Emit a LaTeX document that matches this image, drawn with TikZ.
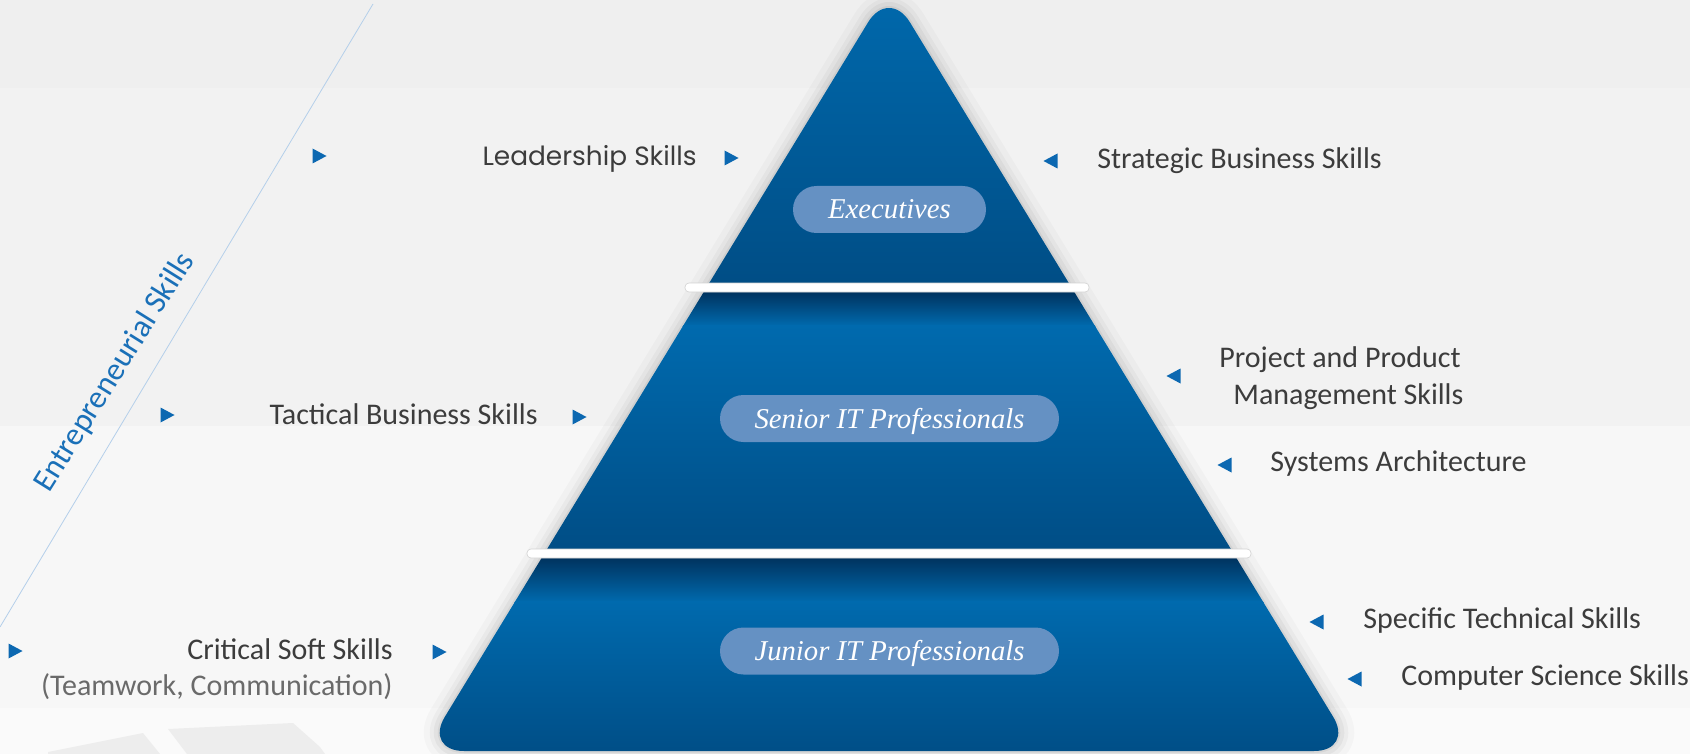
\documentclass[tikz,border=0pt]{standalone}
\usepackage{fontspec}
\setmainfont{Carlito}
\newfontfamily\geofont{Poppins}
\newfontfamily\pillfont{Liberation Serif}
\usetikzlibrary{shapes.geometric}

\definecolor{bgA}{HTML}{EFEFEF}
\definecolor{bgB}{HTML}{F2F2F2}
\definecolor{bgC}{HTML}{F7F7F7}
\definecolor{bgD}{HTML}{FAFAFA}
\definecolor{bgshape}{HTML}{EDEDED}
\definecolor{txtgray}{HTML}{3C3C3C}
\definecolor{subgray}{HTML}{6A6A6A}
\definecolor{mkblue}{HTML}{0C68B1}
\definecolor{entblue}{HTML}{1A70B8}
\definecolor{entline}{HTML}{B4CFEA}
\definecolor{pyrtop}{HTML}{006AAE}
\definecolor{pyrbot}{HTML}{004D85}
\definecolor{pyrshd}{HTML}{002D56}
\definecolor{pillblue}{HTML}{6591C3}

\begin{document}
\begin{tikzpicture}[x=0.5pt,y=-0.5pt,
    skill/.style={inner sep=0pt, text=txtgray, font=\fontsize{15pt}{18pt}\selectfont},
    lead/.style={inner sep=0pt, text=txtgray, font=\geofont\fontsize{13.2pt}{15pt}\selectfont},
    pill/.style={fill=pillblue, rounded corners=11.75pt, minimum height=23.5pt, inner sep=0pt,
      text=white, text height=9.5pt, text depth=0pt, font=\pillfont\itshape\fontsize{14.35pt}{17pt}\selectfont},
    tipR/.style={isosceles triangle, isosceles triangle apex angle=60, isosceles triangle stretches,
      fill=mkblue, inner sep=0pt, minimum width=7.5pt, minimum height=7pt},
    tipL/.style={tipR, shape border rotate=180}] % Pyramid
  \useasboundingbox (0,0) rectangle (1690,754);

  % background bands
  \fill[bgA] (0,0) rectangle (1690,88);
  \fill[bgB] (0,88) rectangle (1690,426);
  \fill[bgC] (0,426) rectangle (1690,708);
  \fill[bgD] (0,708) rectangle (1690,754);
  \fill[bgshape] (48,752) -- (143,733) -- (160,754) -- (48,754) -- cycle;
  \fill[bgshape] (168,729) -- (293,723) -- (320,747) -- (325,754) -- (187,754) -- cycle;

  % entrepreneurial diagonal
  \coordinate (entTop) at (373,4);
  \coordinate (entBot) at (0,627);
  \draw[entline, line width=0.4pt] (entTop) -- (entBot);
  \node[skill, text=entblue, rotate=58, anchor=base, font=\fontsize{16pt}{19pt}\selectfont] (entre) at (122,377) {Entrepreneurial Skills};

  % pyramid corners
  \coordinate (apx) at (889,-12);
  \coordinate (bl) at (424,751);
  \coordinate (br) at (1354,751);
  \coordinate (bm) at (889,751);

  % soft shadow
  \foreach \w/\o in {16/0.025,10/0.03,6/0.04,2/0.05}
    \draw[line width=\w pt, black, opacity=\o, line join=round, rounded corners=20pt] (bm) -- (bl) -- (apx) -- (br) -- cycle;

  \begin{scope}
    \clip[rounded corners=20pt] (bm) -- (bl) -- (apx) -- (br) -- cycle;
    \shade[top color=pyrtop, bottom color=pyrbot] (400,-20) rectangle (1380,289);
    \shade[top color=pyrshd, bottom color=pyrtop] (400,288) rectangle (1380,326);
    \shade[top color=pyrtop, bottom color=pyrbot] (400,325) rectangle (1380,554);
    \shade[top color=pyrshd, bottom color=pyrtop] (400,553) rectangle (1380,602);
    \shade[top color=pyrtop, bottom color=pyrbot] (400,601) rectangle (1380,760);
  \end{scope}

  % white dividers
  \filldraw[fill=white, draw=gray!35, line width=0.3pt, rounded corners=2pt] (685,283) rectangle (1089,292);
  \filldraw[fill=white, draw=gray!35, line width=0.3pt, rounded corners=2pt] (527,549) rectangle (1251,558);

  % tiers
  \node[pill, minimum width=96.5pt] (exec) at (889.5,209.5) {Executives};
  \node[pill, minimum width=169.5pt] (senior) at (889.5,418.5) {Senior IT Professionals};
  \node[pill, minimum width=169.5pt] (junior) at (889.5,651) {Junior IT Professionals};

  % markers
  \node[tipR] (mkL0) at (317,156) {};
  \node[tipR] (mkL1) at (729,158) {};
  \node[tipL] (mkS) at (1053,161) {};
  \node[tipR] (mkT0) at (165,415) {};
  \node[tipR] (mkT1) at (577,417) {};
  \node[tipL] (mkP) at (1176,376) {};
  \node[tipL] (mkA) at (1227,465) {};
  \node[tipL] (mkTech) at (1319,622) {};
  \node[tipL] (mkCS) at (1357,679) {};
  \node[tipR] (mkC0) at (13,651) {};
  \node[tipR] (mkC1) at (437,652) {};

  % skills
  \node[lead, anchor=base east] (lead) at (697,166) {Leadership Skills};
  \node[skill, anchor=base west] (strat) at (1097,169) {Strategic Business Skills};
  \node[skill, anchor=base east] (tact) at (538,424) {Tactical Business Skills};
  \node[skill, anchor=base west] (proj) at (1219,367) {Project and Product};
  \node[skill, anchor=base west] (mgmt) at (1233,404) {Management Skills};
  \node[skill, anchor=base west] (sysarch) at (1270,471) {Systems Architecture};
  \node[skill, anchor=base west] (spec) at (1363,628) {Specific Technical Skills};
  \node[skill, anchor=base west] (cs) at (1401,685) {Computer Science Skills};
  \node[skill, anchor=base east] (soft) at (393,659) {Critical Soft Skills};
  \node[skill, anchor=base east, text=subgray] (team) at (393,695) {(Teamwork, Communication)};
\end{tikzpicture}
\end{document}
